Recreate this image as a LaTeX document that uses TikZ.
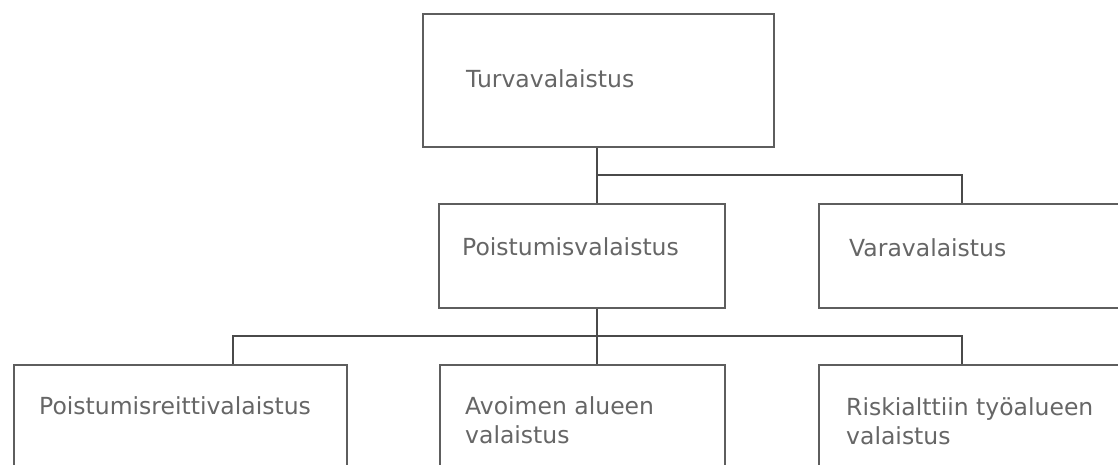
\documentclass[tikz,border=0pt]{standalone}
\usepackage{fontspec}
\setmainfont{DejaVu Sans}
\definecolor{boxline}{HTML}{5E5E5E}
\definecolor{conline}{HTML}{4A4A4A}
\definecolor{txt}{HTML}{666666}
\tikzset{
  box/.style={draw=boxline, line width=2pt, fill=white, rectangle, inner sep=0pt, anchor=north west},
  lbl/.style={text=txt, inner sep=0pt, align=left, font=\fontsize{23.5}{29}\selectfont, anchor=base west},
  con/.style={draw=conline, line width=1.6pt}
}
\begin{document}
\begin{tikzpicture}[x=1pt,y=-1pt]
\clip (0,0) rectangle (1118,464);
\fill[white] (0,0) rectangle (1118,464);
% boxes
\node[box, minimum width=351pt, minimum height=133pt] (top) at (422,13) {};
\node[box, minimum width=286pt, minimum height=104pt] (mid) at (438,203) {};
\node[box, minimum width=320pt, minimum height=104pt] (vara) at (818,203) {};
\node[box, minimum width=333pt, minimum height=130pt] (b1) at (13,364) {};
\node[box, minimum width=285pt, minimum height=130pt] (b2) at (439,364) {};
\node[box, minimum width=320pt, minimum height=130pt] (b3) at (818,364) {};
% labels
\node[lbl] (ttop) at ([xshift=44pt,yshift=-74pt]top.north west) {Turvavalaistus};
\node[lbl] (tmid) at ([xshift=24pt,yshift=-52pt]mid.north west) {Poistumisvalaistus};
\node[lbl] (tvara) at ([xshift=31pt,yshift=-53pt]vara.north west) {Varavalaistus};
\node[lbl] (tb1) at ([xshift=26pt,yshift=-50pt]b1.north west) {Poistumisreittivalaistus};
\node[lbl] (tb2) at ([xshift=26pt,yshift=-79pt]b2.north west) {Avoimen alueen\\valaistus};
\node[lbl] (tb3) at ([xshift=28pt,yshift=-80pt]b3.north west) {Riskialttiin työalueen\\valaistus};
% connectors
\coordinate (sp) at (597,0);
\coordinate (j1) at (sp |- 0,175);
\coordinate (j2) at (sp |- 0,336);
\draw[con] (top.south -| sp) -- (mid.north -| sp);
\draw[con] (j1) -| (vara.north -| 962,0);
\draw[con] (mid.south -| sp) -- (b2.north -| sp);
\draw[con] (j2) -| (b1.north -| 233,0);
\draw[con] (j2) -| (b3.north -| 962,0);
\end{tikzpicture}
\end{document}
